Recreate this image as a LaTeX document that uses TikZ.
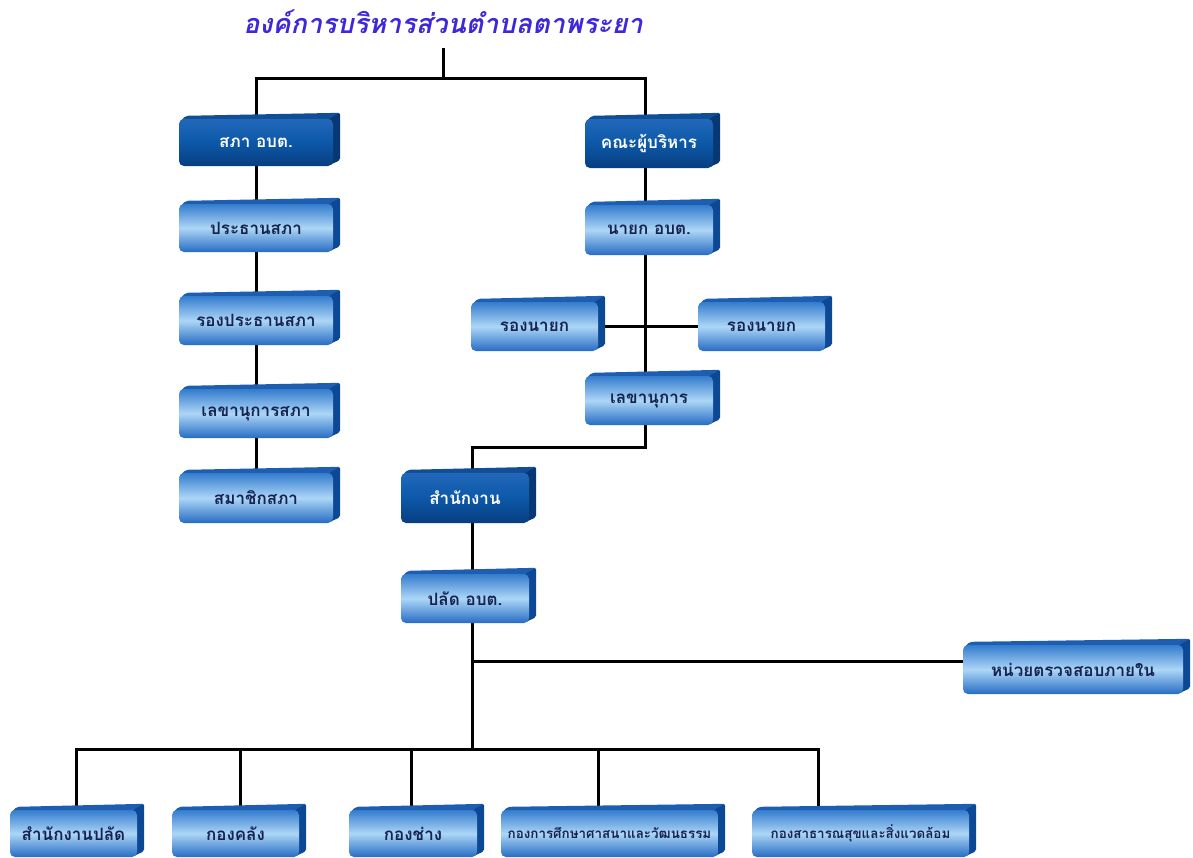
\documentclass[tikz,border=0pt]{standalone}
\usepackage{fontspec}
\newfontfamily\thaifont[Script=Thai]{Loma}
\usetikzlibrary{calc}
\pgfdeclarelayer{paper}
\pgfdeclarelayer{edges}
\pgfdeclarelayer{background}
\pgfsetlayers{paper,edges,background,main}
\definecolor{titleblue}{RGB}{62,40,218}
\definecolor{dkA}{RGB}{34,104,186}
\definecolor{dkB}{RGB}{12,88,168}
\definecolor{dkC}{RGB}{8,62,128}
\definecolor{dkTop}{RGB}{16,78,150}
\definecolor{dkSide}{RGB}{8,56,116}
\definecolor{ltA}{RGB}{52,124,206}
\definecolor{ltB}{RGB}{172,214,246}
\definecolor{ltC}{RGB}{38,108,196}
\definecolor{ltTop}{RGB}{30,94,176}
\definecolor{ltSide}{RGB}{12,72,148}
\definecolor{ltText}{RGB}{22,34,80}
\tikzset{
  boxfont/.style={font=\thaifont\bfseries\fontsize{17}{19}\selectfont},
  darkbox/.style={boxfont, rounded corners=5pt, inner sep=0pt, text=white,
    top color=dkA, bottom color=dkC, middle color=dkB},
  lightbox/.style={boxfont, rounded corners=5pt, inner sep=0pt, text=ltText,
    top color=ltA, bottom color=ltC, middle color=ltB},
  darktop/.style={fill=dkTop}, darkside/.style={fill=dkSide},
  lighttop/.style={fill=ltTop}, lightside/.style={fill=ltSide},
  conn/.style={line width=3pt, black}
}
\newcommand\obox[7]{%
  \node[#6box, minimum width=#4, minimum height=#5] (#1) at (#2,#3) {#7};
  \begin{pgfonlayer}{background}
    \fill[#6top, rounded corners=2pt] ([xshift=1pt,yshift=-3pt]#1.north west) -- ++(6,-6) -- ([shift={(7,-6)}]#1.north east) -- ([yshift=-4pt]#1.north east) -- cycle;
    \fill[#6side, rounded corners=2pt] ([xshift=-4pt]#1.north east) -- ++(11,-6) -- ([shift={(7,-6)}]#1.south east) -- ([xshift=-4pt,yshift=1pt]#1.south east) -- cycle;
  \end{pgfonlayer}}
\begin{document}
\begin{tikzpicture}[x=1pt,y=-1pt]
\begin{pgfonlayer}{paper}
\fill[white] (0,0) rectangle (1193,857);
\end{pgfonlayer}
\useasboundingbox (0,0) rectangle (1193,857);
\node[font=\thaifont\bfseries\itshape\fontsize{27}{30}\selectfont, text=titleblue] (title) at (443,22) {องค์การบริหารส่วนตำบลตาพระยา};
% left column
\obox{sapha}{256}{142.5}{154}{47}{dark}{สภา อบต.}
\obox{pt}{256}{228}{154}{48}{light}{ประธานสภา}
\obox{rpt}{256}{320.5}{154}{49}{light}{รองประธานสภา}
\obox{lks}{256}{413.5}{154}{49}{light}{เลขานุการสภา}
\obox{smc}{256}{498}{154}{50}{light}{สมาชิกสภา}
% right column
\obox{kana}{649}{143.5}{128}{49}{dark}{คณะผู้บริหาร}
\obox{nayok}{649}{230}{128}{50}{light}{นายก อบต.}
\obox{rn1}{534.5}{326.5}{127}{49}{light}{รองนายก}
\obox{rn2}{761.5}{326.5}{127}{49}{light}{รองนายก}
\obox{lkn}{649}{400.5}{128}{49}{light}{เลขานุการ}
% office
\obox{office}{465}{498}{128}{50}{dark}{สำนักงาน}
\obox{pal}{465}{598.5}{128}{49}{light}{ปลัด อบต.}
\obox{audit}{1073}{669.5}{220}{49}{light}{หน่วยตรวจสอบภายใน}
% bottom
\obox{b1}{73.5}{833.5}{127}{47}{light}{สำนักงานปลัด}
\obox{b2}{235.5}{833.5}{127}{47}{light}{กองคลัง}
\obox{b3}{413}{833.5}{128}{47}{light}{กองช่าง}
\obox{b4}{609.5}{833.5}{217}{47}{light}{\fontsize{13.4}{16}\selectfont กองการศึกษาศาสนาและวัฒนธรรม}
\obox{b5}{860.5}{833.5}{217}{47}{light}{\fontsize{13.4}{16}\selectfont กองสาธารณสุขและสิ่งแวดล้อม}
% junctions
\coordinate (tt) at (443,48);
\coordinate (tj) at (443,78);
\coordinate (sj) at (560,447);
\coordinate (aj) at (472,661);
\coordinate (j1) at (472,749);
\begin{pgfonlayer}{edges}
\draw[conn] (tt) -- (tj);
\draw[conn] (sapha) |- (tj);
\draw[conn] ([xshift=-4pt]kana.center) |- (tj);
\draw[conn] (sapha) -- (smc);
\draw[conn] ([xshift=-4pt]kana.center) -- ([xshift=-4pt]lkn.center);
\draw[conn] (rn1) -- (rn2);
\draw[conn] ([xshift=-4pt]lkn.center) |- (sj) -| ([xshift=7pt]office.center);
\draw[conn] ([xshift=7pt]office.center) -- (j1);
\draw[conn] (aj) -- (aj -| audit.west);
\draw[conn] (j1) -| ([xshift=2.5pt]b1.north);
\draw[conn] (j1) -| ([xshift=4.5pt]b2.north);
\draw[conn] (j1) -| ([xshift=-2pt]b3.north);
\draw[conn] (j1) -| ([xshift=-11.5pt]b4.north);
\draw[conn] (j1) -| ([xshift=-42.5pt]b5.north);
\end{pgfonlayer}
\end{tikzpicture}
\end{document}
